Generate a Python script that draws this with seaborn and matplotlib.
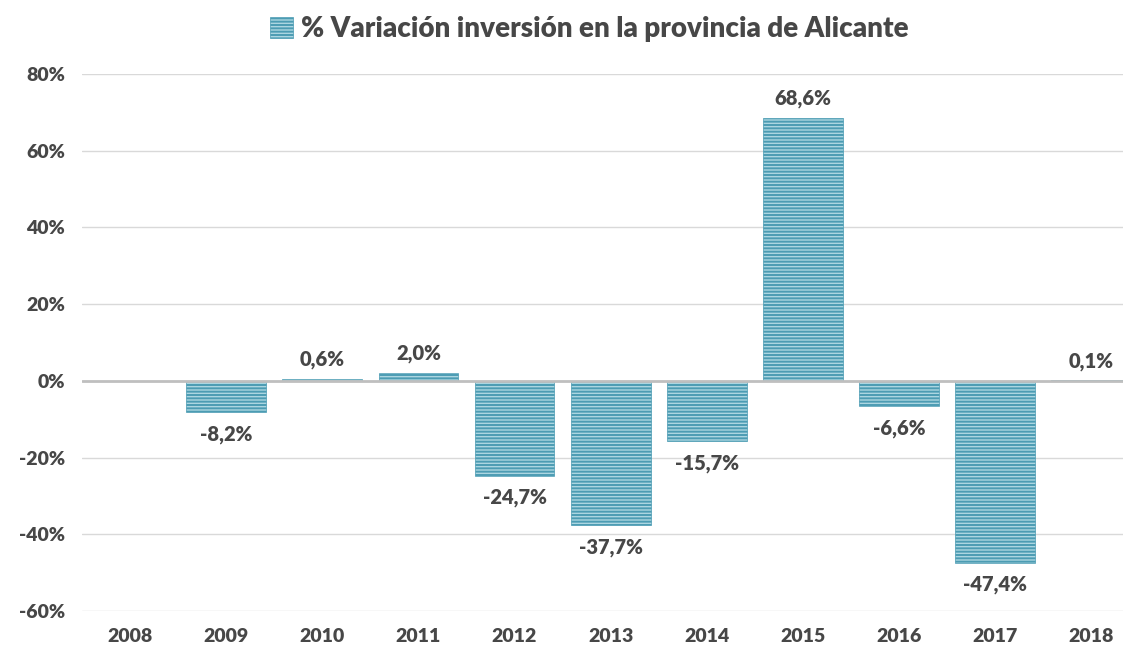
import matplotlib
matplotlib.use("Agg")
import matplotlib.pyplot as plt
import seaborn as sns
import pandas as pd
import numpy as np
from matplotlib.ticker import FuncFormatter

# data
years = ["2008", "2009", "2010", "2011", "2012", "2013", "2014", "2015", "2016", "2017", "2018"]
variation = [np.nan, -8.2, 0.6, 2.0, -24.7, -37.7, -15.7, 68.6, -6.6, -47.4, 0.1]
y_ticks = [-60, -40, -20, 0, 20, 40, 60, 80]
series_name = "% Variación inversión en la provincia de Alicante"

df = pd.DataFrame({"year": years, "value": variation})

sns.set_style("white")
plt.rcParams["font.family"] = ["Lato", "DejaVu Sans"]
plt.rcParams["hatch.linewidth"] = 1.4

text_col = "#474747"
fill_col = "#acd6e1"
hatch_col = "#4c9cb3"

fig = plt.figure(figsize=(11.23, 6.5), dpi=100)
ax = fig.add_axes([82 / 1123, 39 / 650, 1041 / 1123, 537 / 650])

sns.barplot(data=df, x="year", y="value", ax=ax, color=fill_col,
            edgecolor=hatch_col, linewidth=0.5, hatch="-----",
            width=0.83, saturation=1, label=series_name)

ax.set_ylim(-60, 80)
ax.set_xlim(-0.5, 10.33)
ax.set_yticks(y_ticks)
ax.yaxis.set_major_formatter(FuncFormatter(lambda v, p: f"{v:.0f}%"))
ax.grid(axis="y", color="#d9d9d9", linewidth=1)
ax.set_axisbelow(True)
ax.axhline(0, color="#bfbfbf", linewidth=2, zorder=3)
for s in ax.spines.values():
    s.set_visible(False)
ax.set_xlabel("")
ax.set_ylabel("")
ax.tick_params(axis="both", length=0, labelsize=14, labelcolor=text_col, pad=12)
for lbl in ax.get_xticklabels() + ax.get_yticklabels():
    lbl.set_fontweight("heavy")

for i, v in enumerate(variation):
    if np.isnan(v):
        continue
    txt = f"{v:.1f}%".replace(".", ",")
    off = 14 if v >= 0 else -16
    ax.annotate(txt, (i, v), xytext=(0, off), textcoords="offset points",
                ha="center", va="center", fontsize=14.5, fontweight="heavy",
                color=text_col)

if ax.get_legend():
    ax.get_legend().remove()
handles, labels = ax.get_legend_handles_labels()
leg = fig.legend(handles[:1], [series_name], loc="center", bbox_to_anchor=(0.525, 0.955),
                 frameon=False, handlelength=0.8, handleheight=0.8, handletextpad=0.3,
                 prop={"size": 20, "weight": "heavy"})
for t in leg.get_texts():
    t.set_color(text_col)

fig.savefig("out.png", dpi=100)
